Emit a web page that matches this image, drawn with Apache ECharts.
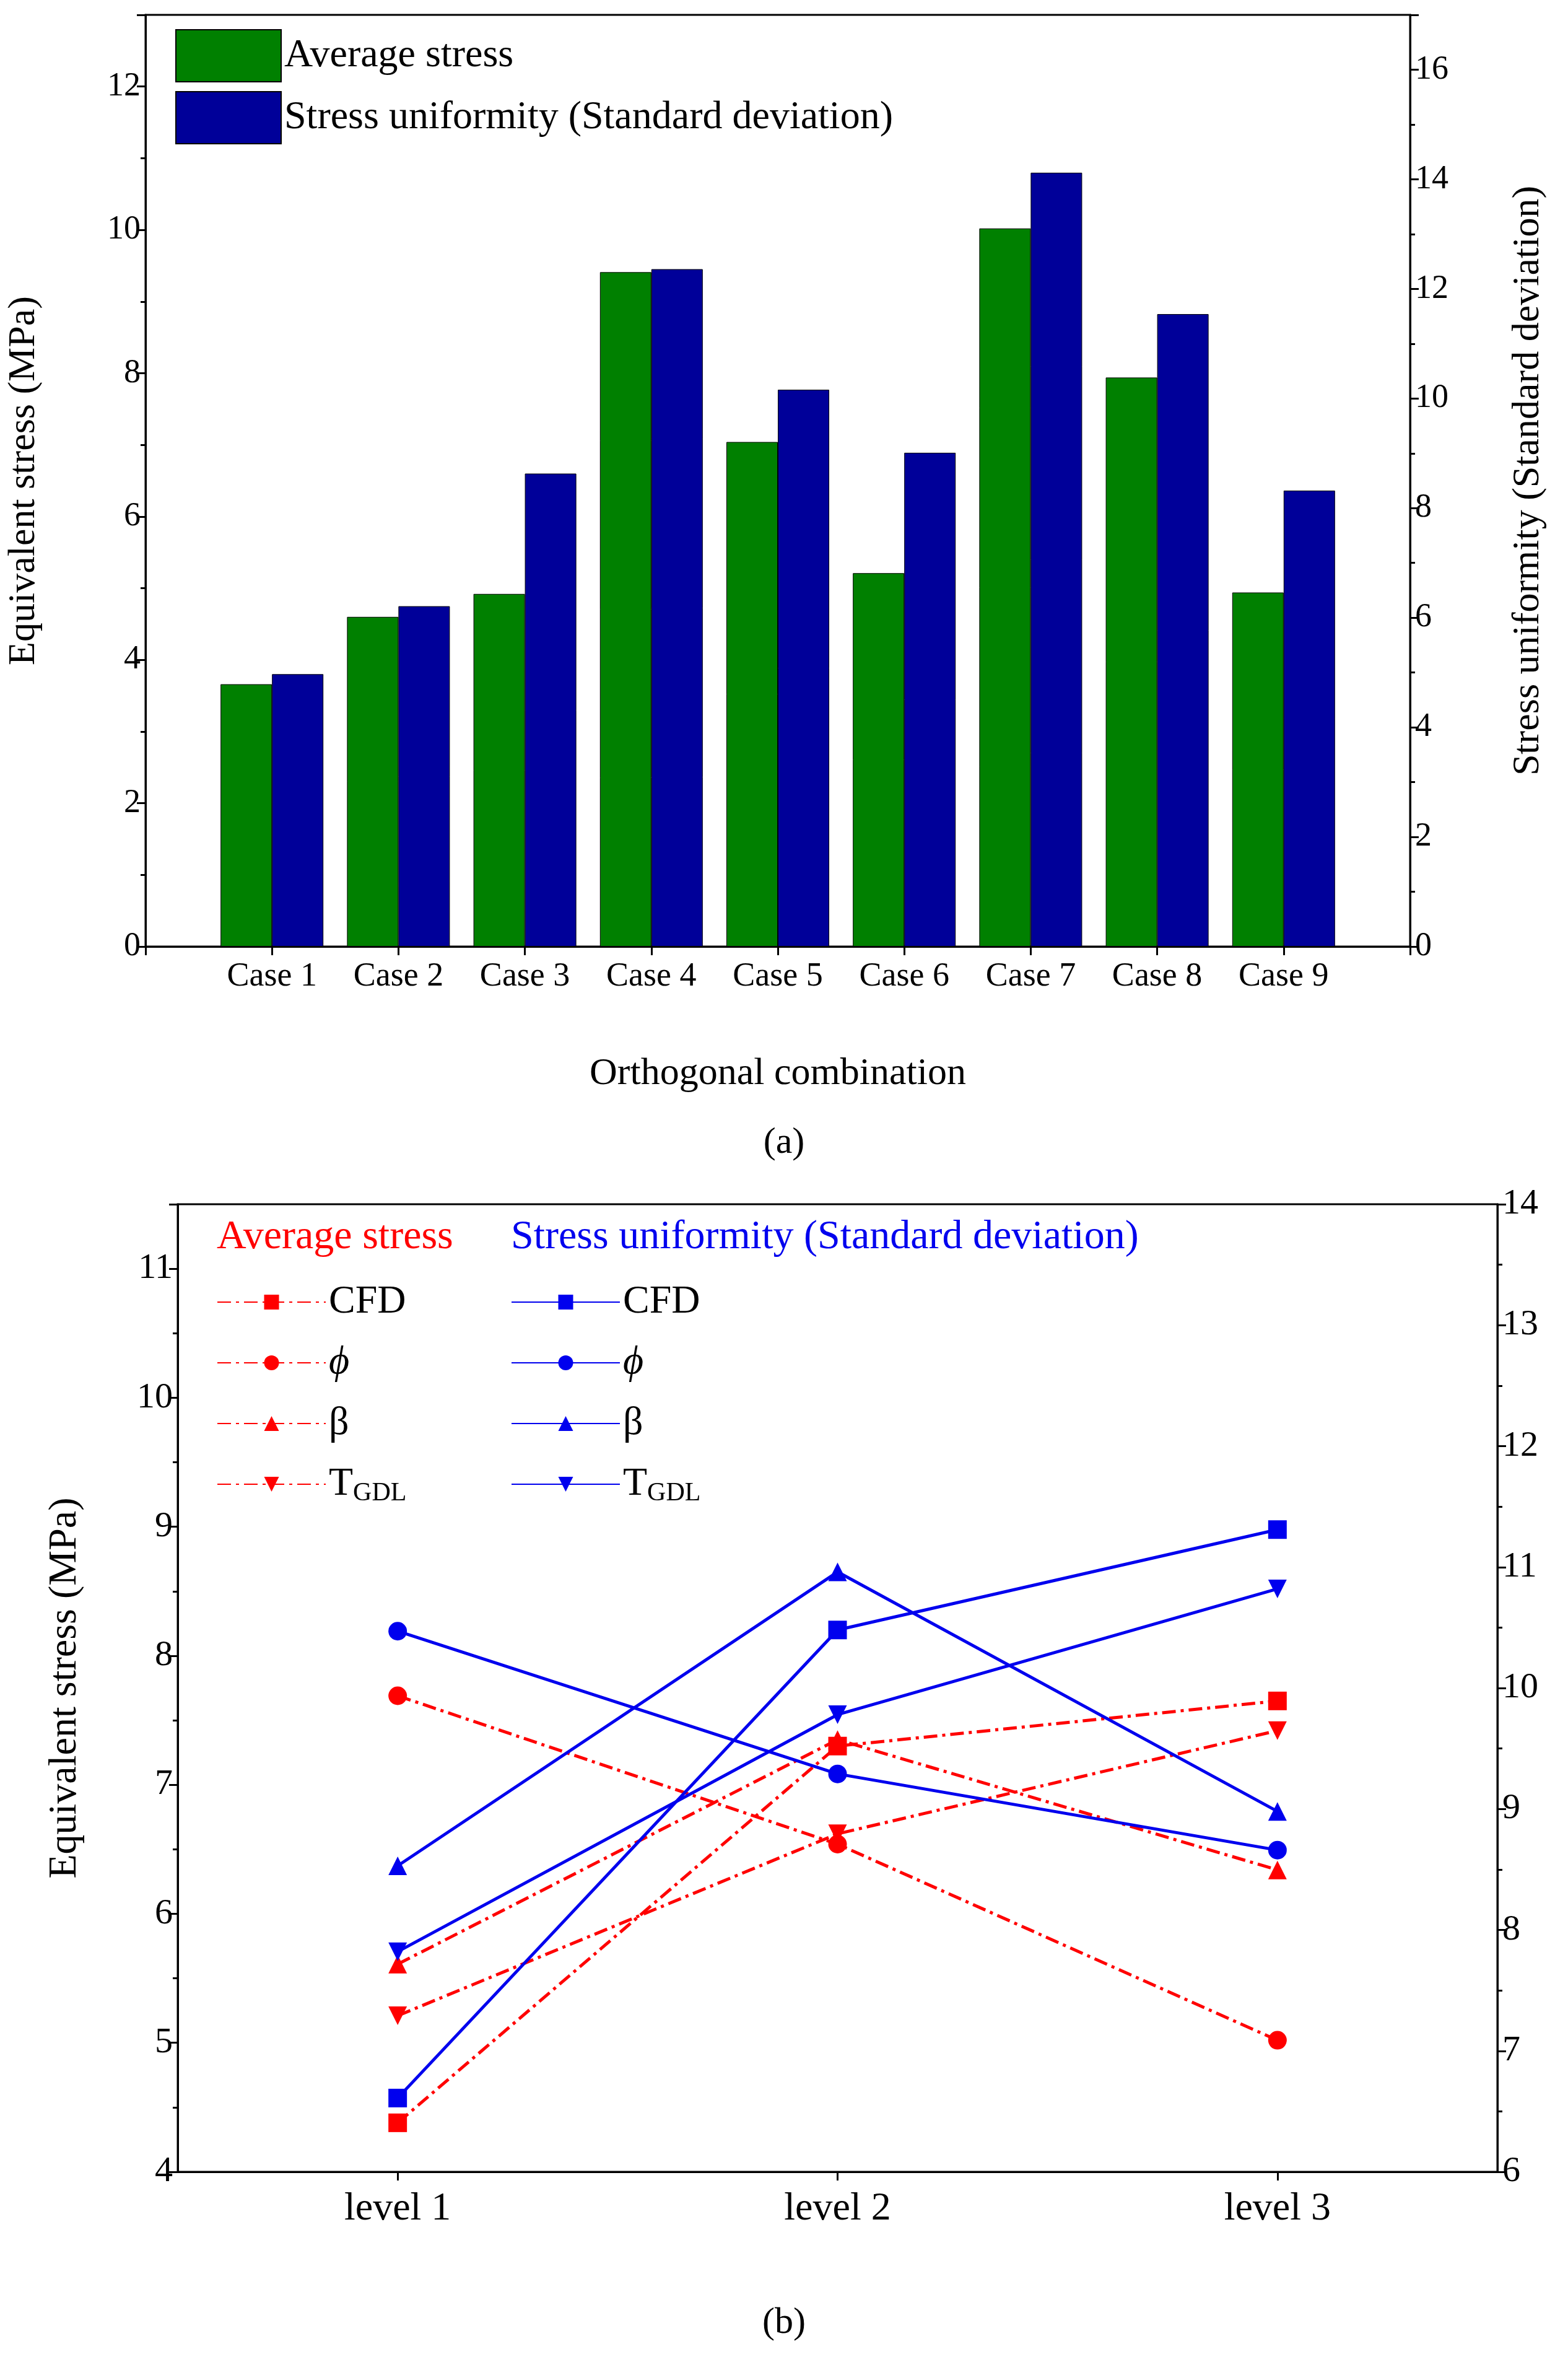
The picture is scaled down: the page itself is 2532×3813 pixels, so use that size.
<!DOCTYPE html>
<html><head><meta charset="utf-8">
<script src="https://cdn.jsdelivr.net/npm/echarts@6/dist/echarts.min.js"></script>
<style>html,body{margin:0;padding:0;background:#fff}#c{width:2532px;height:3813px}</style>
</head><body><div id="c"></div>
<script>
const cases = ['Case 1','Case 2','Case 3','Case 4','Case 5','Case 6','Case 7','Case 8','Case 9'];
const avgStress = [3.66, 4.60, 4.92, 9.41, 7.04, 5.21, 10.02, 7.94, 4.94];
const stdDev = [4.97, 6.21, 8.63, 12.36, 10.16, 9.01, 14.12, 11.54, 8.32];
const levels = ['level 1','level 2','level 3'];
const redCFD = [4.38, 7.30, 7.65];
const redPhi = [7.69, 6.54, 5.02];
const redBeta = [5.61, 7.35, 6.34];
const redT = [5.21, 6.62, 7.42];
const blueCFD = [6.61, 10.48, 11.31];
const bluePhi = [10.47, 9.29, 8.66];
const blueBeta = [8.53, 10.96, 8.98];
const blueT = [7.82, 9.78, 10.82];

const F = 'Liberation Serif';
const ax = {lineStyle:{color:'#000',width:3}};
const lbl = {color:'#000',fontFamily:F,fontSize:54};
const tick = {show:true,length:14,lineStyle:{color:'#000',width:3}};
const mtick = {show:true,length:8,splitNumber:2,lineStyle:{color:'#000',width:3}};
const RED='#f00', BLUE='#0000ee';
const dash=[22,8,5,8];
const rich={sub:{fontSize:42,fontFamily:F,verticalAlign:'bottom',padding:[30,0,0,0],color:'#000'},n:{fontSize:64,fontFamily:F,color:'#000'},i:{fontSize:64,fontFamily:F,fontStyle:'italic',color:'#000'}};
const fmt = n => n==='T_R'||n==='T_B' ? '{n|T}{sub|GDL}' : (n.startsWith('φ')?'{i|ϕ}':(n.startsWith('β')?'{n|β}':'{n|CFD}'));
function ln(name,data,color,sym,ax2,rot){
  return {name,type:'line',data,xAxisIndex:1,yAxisIndex:ax2,symbol:sym,symbolSize:30,symbolRotate:rot||0,
    itemStyle:{color},lineStyle:{color,width:5,type:color===RED?dash:'solid'}};
}
const xy = arr => arr.map((v,i)=>[i+1,v]);
const opt = {
  animation:false,
  grid:[{left:219,right:255,top:24,height:1504,show:true,borderColor:'#000',borderWidth:3},
        {left:287,right:114,top:1944,height:1562,show:true,borderColor:'#000',borderWidth:3}],
  xAxis:[
    {type:'value',min:0,max:10,interval:1,gridIndex:0,axisLine:ax,axisTick:tick,splitLine:{show:false},
     axisLabel:{...lbl,margin:22,formatter:v=>(v>=1&&v<=9)?cases[v-1]:''},
     name:'Orthogonal combination',nameLocation:'middle',nameGap:175,nameTextStyle:{...lbl,fontSize:62}},
    {type:'category',data:levels,gridIndex:1,axisLine:ax,axisTick:{...tick,alignWithLabel:true},axisLabel:{...lbl,fontSize:64,margin:28}}
  ],
  yAxis:[
    {type:'value',gridIndex:0,min:0,max:13,interval:2,axisLine:{show:true,...ax},axisTick:tick,minorTick:mtick,splitLine:{show:false},
     axisLabel:{...lbl,showMaxLabel:false},name:'Equivalent stress (MPa)',nameLocation:'middle',nameGap:165,nameTextStyle:{...lbl,fontSize:62}},
    {type:'value',gridIndex:0,min:0,max:17,interval:2,position:'right',axisLine:{show:true,...ax},axisTick:tick,minorTick:mtick,splitLine:{show:false},
     axisLabel:{...lbl,showMaxLabel:false},name:'Stress uniformity (Standard deviation)',nameLocation:'middle',nameGap:160,nameRotate:90,nameTextStyle:{...lbl,fontSize:62}},
    {type:'value',gridIndex:1,min:4,max:11.5,interval:1,axisLine:{show:true,...ax},axisTick:tick,minorTick:mtick,splitLine:{show:false},
     axisLabel:{...lbl,fontSize:58,showMaxLabel:false},name:'Equivalent stress (MPa)',nameLocation:'middle',nameGap:150,nameTextStyle:{...lbl,fontSize:64}},
    {type:'value',gridIndex:1,min:6,max:14,interval:1,position:'right',axisLine:{show:true,...ax},axisTick:tick,minorTick:mtick,splitLine:{show:false},
     axisLabel:{...lbl,fontSize:58}}
  ],
  legend:[
    {data:['Average stress','Stress uniformity (Standard deviation)'],orient:'vertical',left:278,top:42,itemWidth:170,itemHeight:84,itemGap:14,
     textStyle:{...lbl,fontSize:64},icon:'rect'},
    {data:['CFD_R','φ_R','β_R','T_R'],orient:'vertical',left:345,top:2065,itemWidth:175,itemHeight:30,itemGap:34,formatter:fmt,textStyle:{rich}},
    {data:['CFD_B','φ_B','β_B','T_B'],orient:'vertical',left:820,top:2065,itemWidth:175,itemHeight:30,itemGap:34,formatter:fmt,textStyle:{rich}}
  ],
  graphic:[
    {type:'text',left:350,top:1965,style:{text:'Average stress',fill:RED,font:'66px "Liberation Serif"'}},
    {type:'text',left:825,top:1965,style:{text:'Stress uniformity (Standard deviation)',fill:BLUE,font:'66px "Liberation Serif"'}},
    {type:'text',left:'center',top:1815,style:{text:'(a)',fill:'#000',font:'60px "Liberation Serif"'}},
    {type:'text',left:'center',top:3720,style:{text:'(b)',fill:'#000',font:'60px "Liberation Serif"'}}
  ],
  series:[
    {name:'Average stress',type:'bar',data:xy(avgStress),xAxisIndex:0,yAxisIndex:0,barWidth:83,barGap:'0%',itemStyle:{color:'#008000',borderColor:'#000',borderWidth:1}},
    {name:'Stress uniformity (Standard deviation)',type:'bar',data:xy(stdDev),xAxisIndex:0,yAxisIndex:1,barWidth:83,barGap:'0%',itemStyle:{color:'#000099',borderColor:'#000',borderWidth:1}},
    ln('CFD_R',redCFD,RED,'rect',2),
    ln('φ_R',redPhi,RED,'circle',2),
    ln('β_R',redBeta,RED,'triangle',2),
    ln('T_R',redT,RED,'triangle',2,180),
    ln('CFD_B',blueCFD,BLUE,'rect',3),
    ln('φ_B',bluePhi,BLUE,'circle',3),
    ln('β_B',blueBeta,BLUE,'triangle',3),
    ln('T_B',blueT,BLUE,'triangle',3,180)
  ]
};
echarts.init(document.getElementById('c')).setOption(opt);
</script></body></html>
